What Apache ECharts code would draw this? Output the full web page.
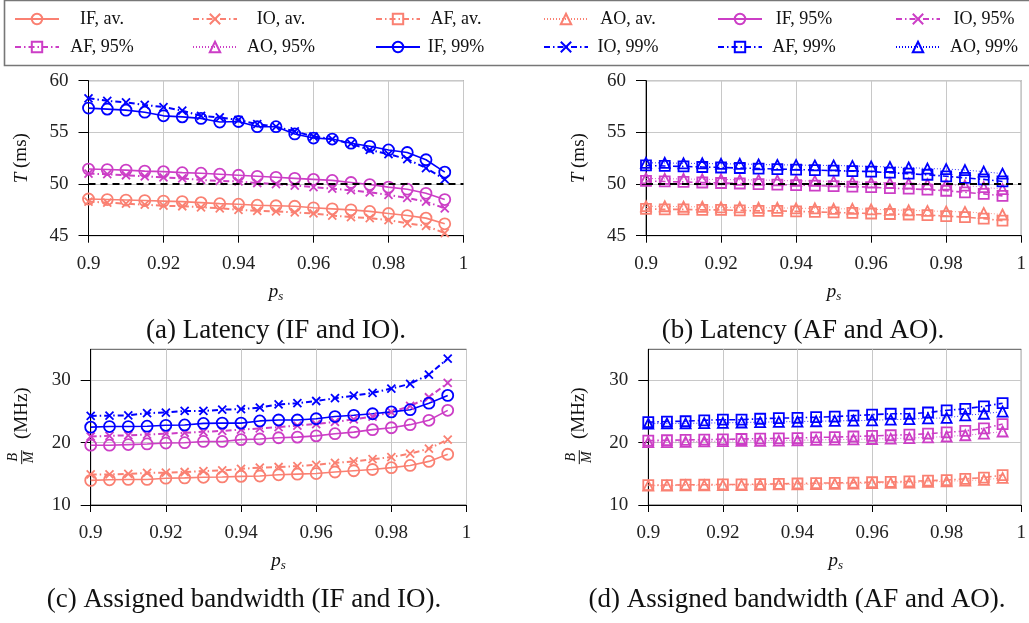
<!DOCTYPE html>
<html>
<head>
<meta charset="utf-8">
<script src="https://cdn.jsdelivr.net/npm/echarts@6/dist/echarts.min.js"></script>
<style>
html,body{margin:0;padding:0;background:#fff;}
#chart{width:1029px;height:623px;}
</style>
</head>
<body>
<div id="chart"></div>
<script>
// ---------------- DATA ----------------
const ps = [0.9, 0.905, 0.91, 0.915, 0.92, 0.925, 0.93, 0.935, 0.94, 0.945,
            0.95, 0.955, 0.96, 0.965, 0.97, 0.975, 0.98, 0.985, 0.99, 0.995];
const xTicks = [0.9, 0.92, 0.94, 0.96, 0.98, 1];
const latTicks = [45, 50, 55, 60];
const bwTicks = [10, 20, 30];
const latTarget = 50;

// (a) Latency, IF and IO
const latIFav = [48.55, 48.5, 48.45, 48.4, 48.35, 48.3, 48.2, 48.1, 48.05, 47.95, 47.9, 47.85, 47.7, 47.6, 47.5, 47.35, 47.15, 46.95, 46.7, 46.15];
const latIOav = [48.3, 48.2, 48.1, 48.0, 47.9, 47.85, 47.75, 47.65, 47.5, 47.4, 47.35, 47.25, 47.15, 46.95, 46.8, 46.7, 46.5, 46.2, 45.95, 45.25];
const latIF95 = [51.45, 51.4, 51.35, 51.25, 51.2, 51.1, 51.05, 50.95, 50.85, 50.75, 50.65, 50.55, 50.45, 50.35, 50.15, 49.95, 49.7, 49.5, 49.1, 48.5];
const latIO95 = [51.0, 50.95, 50.85, 50.75, 50.65, 50.55, 50.4, 50.3, 50.25, 50.1, 50.0, 49.85, 49.7, 49.55, 49.4, 49.2, 48.95, 48.65, 48.3, 47.65];
const latIF99 = [57.35, 57.25, 57.15, 56.95, 56.6, 56.5, 56.35, 56.0, 56.05, 55.55, 55.55, 54.85, 54.45, 54.35, 53.95, 53.65, 53.3, 53.05, 52.35, 51.15];
const latIO99 = [58.3, 58.05, 57.9, 57.65, 57.45, 57.1, 56.6, 56.45, 56.2, 55.8, 55.55, 55.1, 54.6, 54.35, 53.9, 53.3, 52.9, 52.4, 51.55, 50.45];

// (b) Latency, AF and AO
const latAFav = [47.6, 47.55, 47.55, 47.5, 47.5, 47.45, 47.4, 47.4, 47.35, 47.3, 47.25, 47.2, 47.15, 47.1, 47.05, 47.0, 46.9, 46.8, 46.65, 46.45];
const latAOav = [47.85, 47.85, 47.8, 47.8, 47.75, 47.75, 47.7, 47.7, 47.65, 47.65, 47.6, 47.6, 47.55, 47.5, 47.45, 47.4, 47.35, 47.3, 47.2, 47.05];
const latAF95 = [50.3, 50.25, 50.2, 50.15, 50.1, 50.05, 50.0, 49.95, 49.9, 49.85, 49.8, 49.75, 49.7, 49.6, 49.55, 49.45, 49.35, 49.2, 49.05, 48.85];
const latAO95 = [50.55, 50.5, 50.5, 50.45, 50.45, 50.4, 50.4, 50.35, 50.3, 50.3, 50.25, 50.2, 50.15, 50.1, 50.05, 50.0, 49.95, 49.85, 49.7, 49.5];
const latAF99 = [51.8, 51.75, 51.7, 51.65, 51.6, 51.55, 51.5, 51.45, 51.4, 51.35, 51.3, 51.25, 51.2, 51.1, 51.0, 50.9, 50.75, 50.6, 50.45, 50.25];
const latAO99 = [52.05, 52.05, 52.0, 52.0, 51.95, 51.95, 51.9, 51.85, 51.85, 51.8, 51.8, 51.75, 51.7, 51.65, 51.6, 51.5, 51.45, 51.35, 51.2, 51.0];

// (c) Assigned bandwidth, IF and IO
const bwIFav = [13.95, 14.05, 14.1, 14.1, 14.3, 14.35, 14.45, 14.5, 14.6, 14.65, 14.85, 14.95, 15.05, 15.3, 15.5, 15.7, 16.0, 16.35, 17.0, 18.15];
const bwIOav = [14.9, 14.9, 15.0, 15.15, 15.2, 15.3, 15.45, 15.55, 15.8, 16.0, 16.1, 16.25, 16.45, 16.75, 17.0, 17.35, 17.7, 18.25, 19.05, 20.5];
const bwIF95 = [19.6, 19.6, 19.7, 19.8, 19.95, 20.0, 20.2, 20.2, 20.5, 20.6, 20.8, 20.9, 21.1, 21.45, 21.7, 22.1, 22.4, 22.9, 23.6, 25.2];
const bwIO95 = [21.0, 21.1, 21.2, 21.3, 21.45, 21.6, 21.75, 21.9, 22.1, 22.3, 22.5, 22.75, 23.0, 23.35, 23.75, 24.2, 24.9, 25.9, 27.3, 29.6];
const bwIF99 = [22.5, 22.6, 22.6, 22.65, 22.8, 22.85, 23.1, 23.15, 23.15, 23.5, 23.65, 23.65, 23.85, 24.2, 24.4, 24.65, 24.95, 25.3, 26.35, 27.6];
const bwIO99 = [24.3, 24.35, 24.4, 24.75, 24.85, 25.1, 25.1, 25.3, 25.4, 25.65, 26.15, 26.35, 26.7, 27.15, 27.55, 28.0, 28.7, 29.45, 30.95, 33.5];

// (d) Assigned bandwidth, AF and AO
const bwAFav = [13.2, 13.2, 13.25, 13.25, 13.3, 13.3, 13.35, 13.4, 13.45, 13.5, 13.55, 13.6, 13.65, 13.7, 13.8, 13.9, 14.0, 14.2, 14.4, 14.8];
const bwAOav = [13.1, 13.1, 13.15, 13.15, 13.2, 13.2, 13.25, 13.3, 13.3, 13.35, 13.4, 13.45, 13.5, 13.55, 13.6, 13.7, 13.8, 13.9, 14.05, 14.35];
const bwAF95 = [20.35, 20.4, 20.45, 20.5, 20.55, 20.6, 20.65, 20.7, 20.75, 20.85, 20.9, 21.0, 21.1, 21.2, 21.3, 21.45, 21.65, 21.9, 22.3, 23.0];
const bwAO95 = [20.1, 20.1, 20.15, 20.2, 20.25, 20.3, 20.3, 20.35, 20.4, 20.45, 20.5, 20.55, 20.6, 20.65, 20.75, 20.85, 21.0, 21.2, 21.45, 21.8];
const bwAF99 = [23.3, 23.4, 23.45, 23.6, 23.7, 23.7, 23.85, 23.95, 24.0, 24.1, 24.2, 24.35, 24.5, 24.65, 24.65, 24.85, 25.2, 25.45, 25.85, 26.35];
const bwAO99 = [23.05, 23.1, 23.1, 23.15, 23.2, 23.25, 23.3, 23.35, 23.4, 23.45, 23.5, 23.55, 23.6, 23.7, 23.8, 23.9, 24.0, 24.4, 24.65, 25.0];

const legendNames = ['IF, av.', 'IO, av.', 'AF, av.', 'AO, av.', 'IF, 95%', 'IO, 95%',
                     'AF, 95%', 'AO, 95%', 'IF, 99%', 'IO, 99%', 'AF, 99%', 'AO, 99%'];
const captions = ['(a) Latency (IF and IO).', '(b) Latency (AF and AO).',
                  '(c) Assigned bandwidth (IF and IO).', '(d) Assigned bandwidth (AF and AO).'];

// ---------------- STYLE ----------------
const FONT = '"Liberation Serif", "DejaVu Serif", serif';
const COL = { av: '#FA8072', '95': '#CC3EC6', '99': '#0000FF' };
const CROSS = 'path://M0,0L10,10M10,0L0,10';
const TYPE = {
  IF: { symbol: 'circle', size: 11, line: 'solid', lw: 1.6 },
  IO: { symbol: CROSS, size: 8, line: [6, 3, 1.5, 3], lw: 2 },
  AF: { symbol: 'rect', size: 10, line: [6, 3, 1.5, 3], lw: 1.6 },
  AO: { symbol: 'triangle', size: 10, line: [1, 2], lw: 0.8 }
};

const grids = [
  { left: 88.5, top: 80.7, width: 375, height: 155 },
  { left: 646, top: 80.7, width: 376, height: 155 },
  { left: 90.7, top: 349.3, width: 375.8, height: 155.7 },
  { left: 648.3, top: 349.3, width: 375, height: 155.7 }
];
// caption centres (layout)
const capX = [276, 803, 244, 797];

function xAxisCfg(g) {
  return {
    type: 'value', gridIndex: g, min: 0.9, max: 1, interval: 0.02,
    axisLine: { show: true, onZero: false, lineStyle: { color: '#000', width: 1 } },
    axisTick: { show: true, inside: false, length: 7, customValues: xTicks, lineStyle: { color: '#000' } },
    axisLabel: { margin: 19, customValues: xTicks, fontFamily: FONT, fontSize: 19, color: '#222' },
    splitLine: { show: true, lineStyle: { color: '#c8c8c8', width: 1 } }
  };
}
function yAxisCfg(g, lat) {
  const t = lat ? latTicks : bwTicks;
  return {
    type: 'value', gridIndex: g,
    min: lat ? 45 : 10, max: lat ? 60 : 35, interval: lat ? 5 : 10,
    axisLine: { show: true, onZero: false, lineStyle: { color: '#000', width: 1 } },
    axisTick: { show: true, inside: false, length: 10, customValues: t, lineStyle: { color: '#000' } },
    axisLabel: { margin: 20, customValues: t, fontFamily: FONT, fontSize: 19, color: '#222' },
    splitLine: { show: true, lineStyle: { color: '#c8c8c8', width: 1 } }
  };
}

function mk(name, arr, g) {
  const t = TYPE[name.slice(0, 2)];
  const lvl = name.indexOf('av') >= 0 ? 'av' : (name.indexOf('95') >= 0 ? '95' : '99');
  const c = COL[lvl];
  return {
    name: name, type: 'line', xAxisIndex: g, yAxisIndex: g,
    data: ps.map((x, i) => [x, arr[i]]),
    symbol: t.symbol, symbolSize: t.size, showAllSymbol: true,
    lineStyle: { color: c, width: t.lw, type: t.line },
    itemStyle: { color: 'rgba(255,255,255,0)', borderColor: c, borderWidth: 1.8 },
    emphasis: { disabled: true }, animation: false, silent: true
  };
}

const series = [
  mk('IF, av.', latIFav, 0), mk('IO, av.', latIOav, 0),
  mk('IF, 95%', latIF95, 0), mk('IO, 95%', latIO95, 0),
  mk('IF, 99%', latIF99, 0), mk('IO, 99%', latIO99, 0),
  mk('AF, av.', latAFav, 1), mk('AO, av.', latAOav, 1),
  mk('AF, 95%', latAF95, 1), mk('AO, 95%', latAO95, 1),
  mk('AF, 99%', latAF99, 1), mk('AO, 99%', latAO99, 1),
  mk('IF, av.', bwIFav, 2), mk('IO, av.', bwIOav, 2),
  mk('IF, 95%', bwIF95, 2), mk('IO, 95%', bwIO95, 2),
  mk('IF, 99%', bwIF99, 2), mk('IO, 99%', bwIO99, 2),
  mk('AF, av.', bwAFav, 3), mk('AO, av.', bwAOav, 3),
  mk('AF, 95%', bwAF95, 3), mk('AO, 95%', bwAO95, 3),
  mk('AF, 99%', bwAF99, 3), mk('AO, 99%', bwAO99, 3)
];
// target line at 50 ms in (a) and (b)
[0, 6].forEach(function (si) {
  series[si].markLine = {
    silent: true, symbol: ['none', 'none'], label: { show: false },
    lineStyle: { color: '#000', type: [7, 5], width: 2 },
    data: [{ yAxis: latTarget }]
  };
});

// ---------------- LEGEND ----------------
const iconLeft = [14, 192, 375, 543, 717, 895];
const textCenter = [101, 280, 455, 627, 803, 983];
const rowCenter = [19, 47];
const meas = document.createElement('canvas').getContext('2d');
meas.font = '18px ' + FONT;
const legends = legendNames.map(function (n, i) {
  const col = i % 6, row = Math.floor(i / 6);
  const w = meas.measureText(n).width;
  const pad = Math.max(0, textCenter[col] - w / 2 - (iconLeft[col] + 44 + 5));
  return {
    data: [n], left: iconLeft[col], top: rowCenter[row] - 10, padding: 0,
    itemWidth: 44, itemHeight: 13, selectedMode: false,
    textStyle: { fontFamily: FONT, fontSize: 18, color: '#111', lineHeight: 20, padding: [0, 0, 0, pad] }
  };
});

// ---------------- GRAPHIC (texts) ----------------
function gx(i) { return grids[i].left + grids[i].width / 2; }
function gy(i) { return grids[i].top + grids[i].height / 2; }
const graphic = [
  { type: 'rect', shape: { x: 4.5, y: 0.5, width: 1040, height: 65 }, style: { fill: 'none', stroke: '#777', lineWidth: 1.6 }, silent: true }
];
[0, 1].forEach(function (i) {
  graphic.push({
    type: 'text', x: grids[i].left - 67, y: gy(i), rotation: Math.PI / 2,
    style: {
      text: '{i|T} (ms)', textAlign: 'center', textVerticalAlign: 'middle',
      font: '19px ' + FONT, fill: '#111',
      rich: { i: { fontStyle: 'italic', fontSize: 19, fontFamily: FONT, fill: '#111' } }
    }
  });
});
[2, 3].forEach(function (i) {
  graphic.push({
    type: 'group', x: grids[i].left - 69, y: gy(i), rotation: Math.PI / 2,
    children: [
      { type: 'text', x: -30, y: -8, style: { text: 'B', font: 'italic 14px ' + FONT, fill: '#111', textAlign: 'center', textVerticalAlign: 'middle' } },
      { type: 'line', shape: { x1: -37, y1: 0, x2: -23, y2: 0 }, style: { stroke: '#111', lineWidth: 1 } },
      { type: 'text', x: -30, y: 8, style: { text: 'M', font: 'italic 14px ' + FONT, fill: '#111', textAlign: 'center', textVerticalAlign: 'middle' } },
      { type: 'text', x: 14, y: 0, style: { text: '(MHz)', font: '19px ' + FONT, fill: '#111', textAlign: 'center', textVerticalAlign: 'middle' } }
    ]
  });
});
[0, 1, 2, 3].forEach(function (i) {
  const yb = grids[i].top + grids[i].height;
  graphic.push({
    type: 'text', x: gx(i), y: yb + 56,
    style: {
      text: '{p|p}{s|s}', textAlign: 'center', textVerticalAlign: 'middle',
      rich: {
        p: { fontStyle: 'italic', fontSize: 19, fontFamily: FONT, fill: '#111' },
        s: { fontStyle: 'italic', fontSize: 13, fontFamily: FONT, fill: '#111', padding: [9, 0, 0, 0] }
      }
    }
  });
  graphic.push({
    type: 'text', x: capX[i], y: yb + 95,
    style: { text: captions[i], textAlign: 'center', textVerticalAlign: 'middle', font: '27px ' + FONT, fill: '#111' }
  });
});

const option = {
  backgroundColor: '#fff',
  animation: false,
  grid: grids.map(g => Object.assign({ show: true, borderColor: '#555', borderWidth: 1, backgroundColor: 'transparent' }, g)),
  xAxis: [0, 1, 2, 3].map(xAxisCfg),
  yAxis: [yAxisCfg(0, true), yAxisCfg(1, true), yAxisCfg(2, false), yAxisCfg(3, false)],
  legend: legends,
  series: series,
  graphic: graphic
};

const chart = echarts.init(document.getElementById('chart'), null, { renderer: 'canvas' });
chart.setOption(option);
</script>
</body>
</html>
